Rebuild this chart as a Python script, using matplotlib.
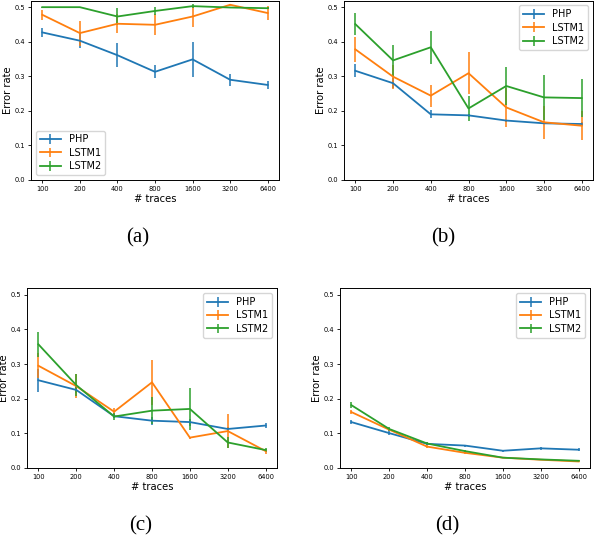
import matplotlib
matplotlib.use('Agg')
import matplotlib.pyplot as plt
import numpy as np

traces = ['100', '200', '400', '800', '1600', '3200', '6400']
labels = ['PHP', 'LSTM1', 'LSTM2']
colors = ['#1f77b4', '#ff7f0e', '#2ca02c']

# panel (a)
a_php = [0.427, 0.403, 0.361, 0.313, 0.349, 0.290, 0.275]
a_php_err = [0.014, 0.021, 0.035, 0.019, 0.050, 0.018, 0.012]
a_lstm1 = [0.478, 0.425, 0.452, 0.449, 0.473, 0.507, 0.483]
a_lstm1_err = [0.015, 0.036, 0.027, 0.030, 0.030, 0.003, 0.019]
a_lstm2 = [0.500, 0.500, 0.473, 0.489, 0.503, 0.499, 0.497]
a_lstm2_err = [0.001, 0.001, 0.025, 0.011, 0.005, 0.002, 0.003]

# panel (b)
b_php = [0.316, 0.280, 0.190, 0.187, 0.172, 0.164, 0.162]
b_php_err = [0.019, 0.015, 0.012, 0.005, 0.003, 0.003, 0.005]
b_lstm1 = [0.378, 0.299, 0.244, 0.309, 0.210, 0.167, 0.157]
b_lstm1_err = [0.037, 0.035, 0.032, 0.061, 0.057, 0.047, 0.042]
b_lstm2 = [0.451, 0.346, 0.384, 0.207, 0.272, 0.239, 0.237]
b_lstm2_err = [0.032, 0.045, 0.047, 0.037, 0.055, 0.065, 0.055]

# panel (c)
c_php = [0.253, 0.225, 0.149, 0.136, 0.132, 0.112, 0.122]
c_php_err = [0.033, 0.010, 0.005, 0.012, 0.010, 0.005, 0.006]
c_lstm1 = [0.295, 0.236, 0.162, 0.247, 0.087, 0.106, 0.048]
c_lstm1_err = [0.036, 0.035, 0.012, 0.065, 0.003, 0.050, 0.007]
c_lstm2 = [0.357, 0.239, 0.148, 0.165, 0.170, 0.073, 0.051]
c_lstm2_err = [0.036, 0.032, 0.010, 0.040, 0.060, 0.017, 0.005]

# panel (d)
d_php = [0.132, 0.100, 0.069, 0.064, 0.049, 0.056, 0.052]
d_php_err = [0.005, 0.005, 0.004, 0.003, 0.003, 0.004, 0.004]
d_lstm1 = [0.161, 0.110, 0.061, 0.043, 0.029, 0.023, 0.018]
d_lstm1_err = [0.006, 0.004, 0.004, 0.003, 0.002, 0.002, 0.002]
d_lstm2 = [0.181, 0.112, 0.070, 0.048, 0.029, 0.024, 0.020]
d_lstm2_err = [0.008, 0.006, 0.004, 0.003, 0.002, 0.002, 0.002]

panels = [
    ('(a)', [a_php, a_lstm1, a_lstm2], [a_php_err, a_lstm1_err, a_lstm2_err], 'lower left'),
    ('(b)', [b_php, b_lstm1, b_lstm2], [b_php_err, b_lstm1_err, b_lstm2_err], 'upper right'),
    ('(c)', [c_php, c_lstm1, c_lstm2], [c_php_err, c_lstm1_err, c_lstm2_err], 'upper right'),
    ('(d)', [d_php, d_lstm1, d_lstm2], [d_php_err, d_lstm1_err, d_lstm2_err], 'upper right'),
]

W, H = 594, 538
# axes boxes in pixels: left, right, top, bottom
boxes = [(31, 279, 0.6, 180), (344, 593, 0.6, 180),
         (27, 277, 288.3, 467.7), (340, 590, 288.3, 467.7)]
captions = [(138, 238), (443, 238), (141, 526), (447, 526)]

fig = plt.figure(figsize=(W / 100, H / 100), dpi=100)

x = np.arange(len(traces))
for (name, series, errs, loc), (l, r, t, b), (cx, cy) in zip(panels, boxes, captions):
    ax = fig.add_axes([l / W, 1 - b / H, (r - l) / W, (b - t) / H])
    for vals, err, lab, col in zip(series, errs, labels, colors):
        ax.errorbar(x, vals, yerr=err, color=col, label=lab, lw=1.3, elinewidth=1.1)
    ax.set_xticks(x)
    ax.set_xticklabels(traces)
    ax.set_ylim(0, 0.519)
    ax.set_yticks(np.arange(0, 0.51, 0.1))
    ax.tick_params(labelsize=4.8, length=2.5, width=0.6, pad=1.8)
    for sp in ax.spines.values():
        sp.set_linewidth(0.7)
    ax.set_xlabel('# traces', fontsize=7.2, labelpad=1.5)
    ax.set_ylabel('Error rate', fontsize=7.2, labelpad=1.2)
    ax.legend(loc=loc, fontsize=7, handlelength=2.2, borderpad=0.4, labelspacing=0.35)
    fig.text(cx / W, 1 - cy / H, name, fontsize=15, family='Liberation Serif',
             ha='center', va='center')

fig.savefig('out.png', dpi=100)
